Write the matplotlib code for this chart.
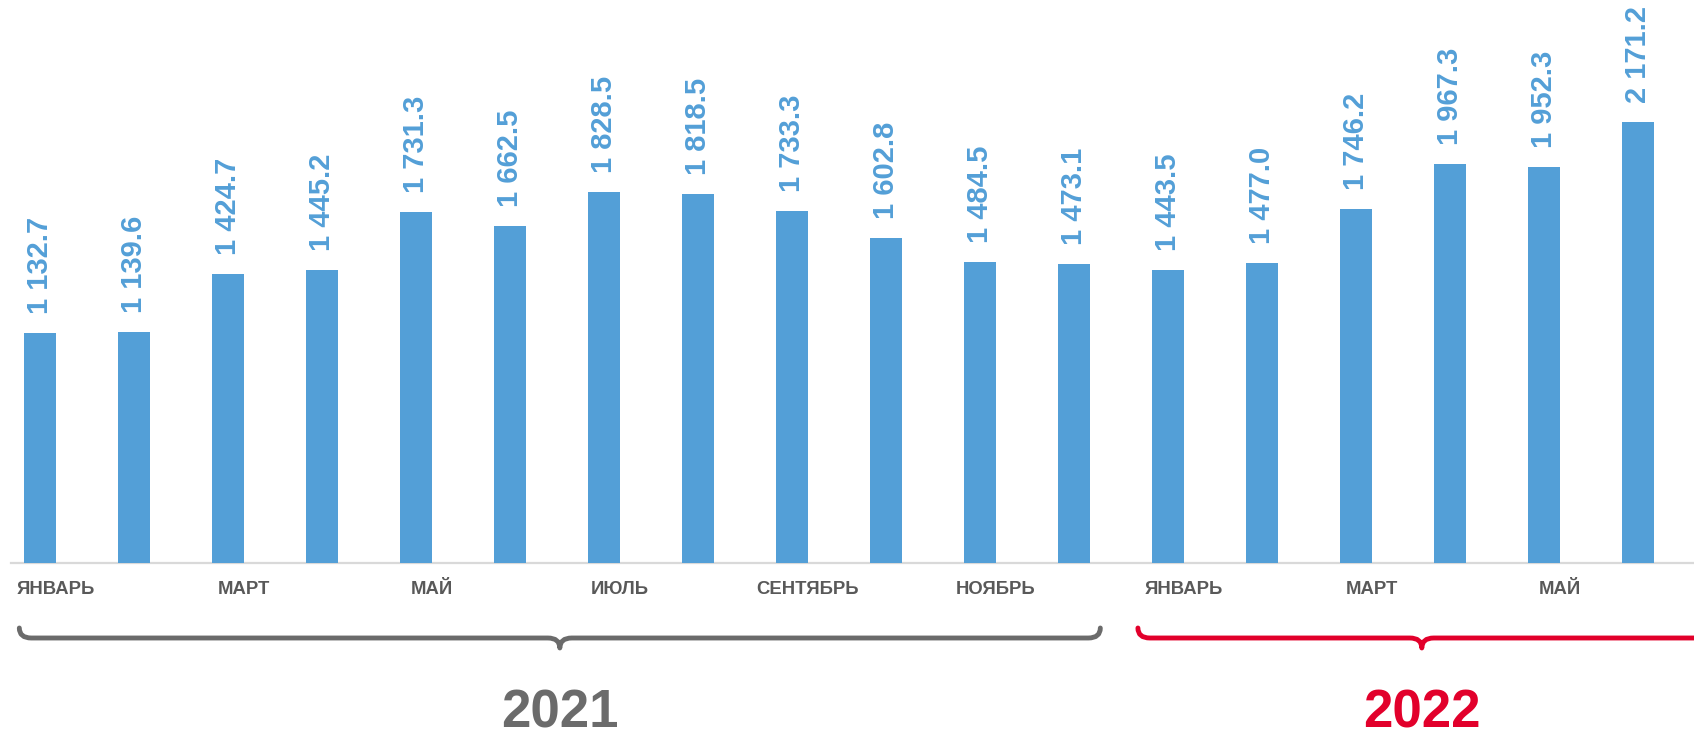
import matplotlib
matplotlib.use('Agg')
import matplotlib.pyplot as plt
from matplotlib.path import Path
from matplotlib.patches import PathPatch
from matplotlib.transforms import blended_transform_factory

# ---- data ----
values = [1132.7, 1139.6, 1424.7, 1445.2, 1731.3, 1662.5, 1828.5, 1818.5,
          1733.3, 1602.8, 1484.5, 1473.1, 1443.5, 1477.0, 1746.2, 1967.3,
          1952.3, 2171.2]
month_labels = ['ЯНВАРЬ', '', 'МАРТ', '', 'МАЙ', '', 'ИЮЛЬ', '', 'СЕНТЯБРЬ', '',
                'НОЯБРЬ', '', 'ЯНВАРЬ', '', 'МАРТ', '', 'МАЙ', '']
years = ['2021', '2022']
year_colors = ['#6B6B6B', '#E2002B']
brace_spans = [(-0.22, 11.28), (11.68, 17.72)]

# ---- layout ----
W, H = 1694, 738
step_px = 94.0
first_px = 40.0
axis_px = 563.0
px_per_unit = 0.203

fig = plt.figure(figsize=(W / 100, H / 100), dpi=100)
ax = fig.add_axes([0, (H - axis_px) / H, 1, axis_px / H])
ax.set_xlim(-first_px / step_px, (W - first_px) / step_px)
ax.set_ylim(0, axis_px / px_per_unit)
ax.axis('off')

bar_color = '#539FD7'
x = list(range(len(values)))
ax.bar(x, values, width=0.35, color=bar_color, zorder=2)

for xi, v in zip(x, values):
    lab = f'{v:,.1f}'.replace(',', ' ')
    ax.annotate(lab, (xi, v), xytext=(0, 19 * 0.72), textcoords='offset points',
                rotation=90, ha='center', va='bottom', fontsize=21,
                fontweight='bold', color=bar_color, family='Liberation Sans')

ax.axhline(0, xmin=11 / W, xmax=1, color='#D9D9D9', lw=1.6, clip_on=False, zorder=1)

trans = blended_transform_factory(ax.transData, fig.transFigure)

def fy(px):
    return 1 - px / H

for xi, lab in zip(x, month_labels):
    if lab:
        ax.text(xi + 0.17, fy(590), lab, transform=trans, ha='center', va='center',
                fontsize=13.3, fontweight='bold', color='#595959',
                family='Liberation Sans')

# braces
y_end, y_line, y_tip = fy(628), fy(638), fy(648)
rx = 12 / step_px
for (xa, xb), col, yr in zip(brace_spans, year_colors, years):
    xc = (xa + xb) / 2
    verts = [(xa, y_end), (xa, y_line), (xa + rx, y_line),
             (xc - rx, y_line), (xc, y_line), (xc, y_tip),
             (xc, y_line), (xc + rx, y_line),
             (xb - rx, y_line), (xb, y_line), (xb, y_end)]
    codes = [Path.MOVETO, Path.CURVE3, Path.CURVE3,
             Path.LINETO, Path.CURVE3, Path.CURVE3,
             Path.CURVE3, Path.CURVE3,
             Path.LINETO, Path.CURVE3, Path.CURVE3]
    patch = PathPatch(Path(verts, codes), transform=trans, fill=False,
                      edgecolor=col, lw=3.5, capstyle='round', joinstyle='round',
                      clip_on=False)
    fig.add_artist(patch)
    ax.text(xc, fy(727), yr, transform=trans, ha='center', va='baseline',
            fontsize=38, fontweight='bold', color=col,
            family='Liberation Sans')

fig.savefig('out.png', dpi=100)
